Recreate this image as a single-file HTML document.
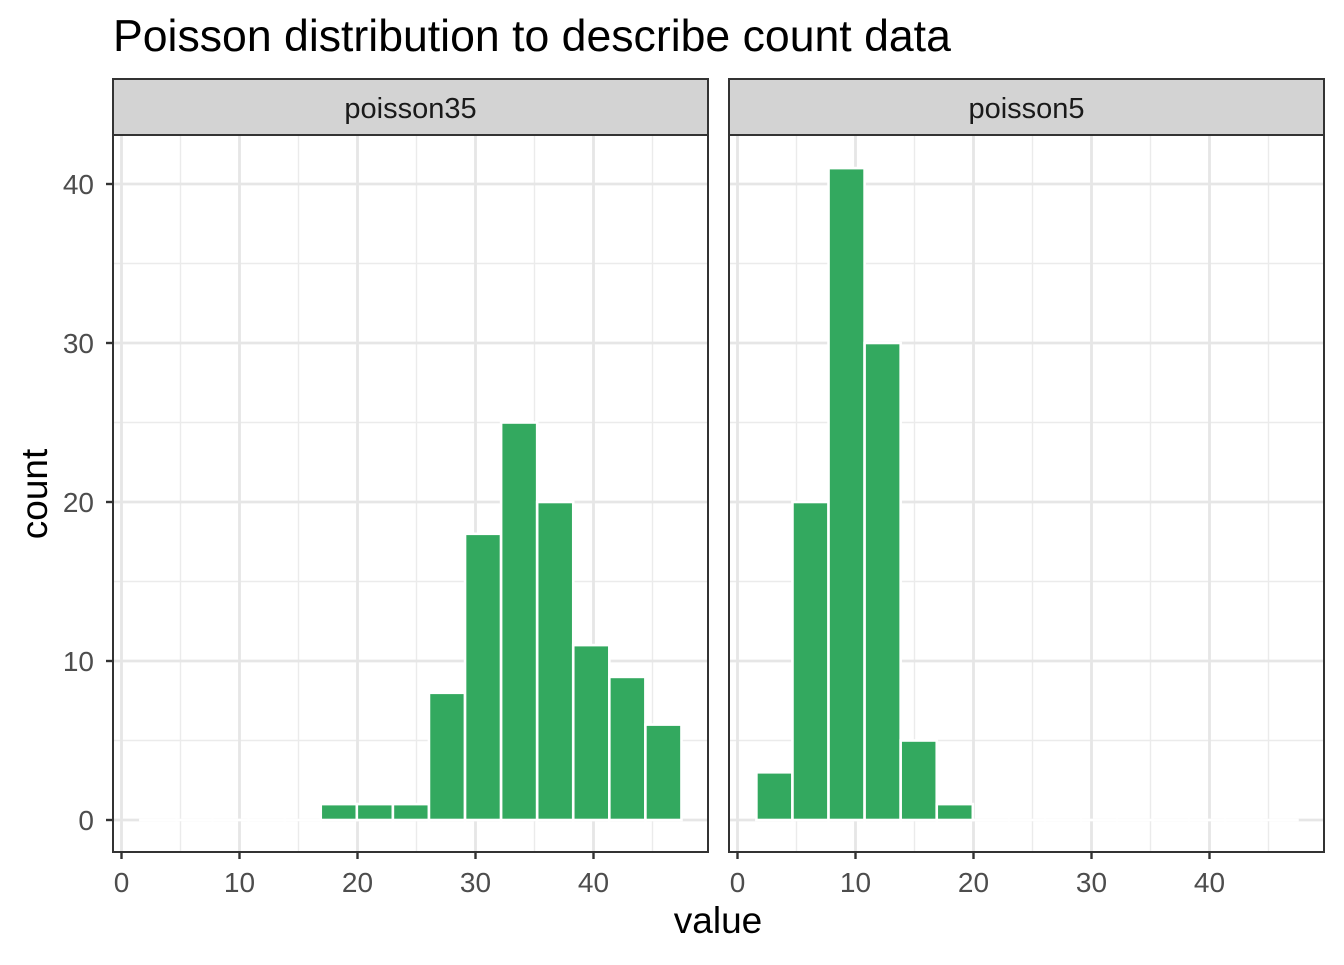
<!DOCTYPE html>
<html><head><meta charset="utf-8"><style>
body{margin:0;background:#fff;}
svg text{font-family:"Liberation Sans",Arial,sans-serif;}
</style></head><body>
<svg id="chart" width="1344" height="960" xmlns="http://www.w3.org/2000/svg">
<text x="113" y="51" font-size="44.6" fill="#000">Poisson distribution to describe count data</text>
<text transform="translate(47,494) rotate(-90)" text-anchor="middle" font-size="37" fill="#000">count</text>
<text x="718" y="933" text-anchor="middle" font-size="37" fill="#000">value</text>
<g id="panels"></g>
</svg>
<script>
const panelNames = ["poisson35", "poisson5"];
const countsPoisson35 = [0,0,0,0,0,1,1,1,8,18,25,20,11,9,6];
const countsPoisson5 = [3,20,41,30,5,1,0,0,0,0,0,0,0,0,0];
const binStart = 1.6;
const binWidth = 3.057;
const xTicks = [0,10,20,30,40];
const yTicks = [0,10,20,30,40];
const xMinor = [5,15,25,35,45];
const yMinor = [5,15,25,35];

const NS = "http://www.w3.org/2000/svg";
const panelsG = document.getElementById("panels");
const panelLefts = [113, 729], panelW = 595, panelTop = 135, panelBottom = 852;
function mk(tag, attrs, parent){const e=document.createElementNS(NS,tag);for(const k in attrs)e.setAttribute(k,attrs[k]);parent.appendChild(e);return e;}
const yS = v => 820 - v*15.9;
const allCounts = [countsPoisson35, countsPoisson5];

panelNames.forEach((name, p) => {
  const L = panelLefts[p];
  const xS = v => L + 8.5 + v*11.8;
  const g = mk("g", {}, panelsG);
  
  
  mk("rect", {x:L, y:panelTop, width:panelW, height:panelBottom-panelTop, fill:"#fff"}, g);
  xMinor.forEach(v => mk("line",{x1:xS(v),x2:xS(v),y1:panelTop,y2:panelBottom,stroke:"#ebebeb","stroke-width":1.4},g));
  yMinor.forEach(v => mk("line",{x1:L,x2:L+panelW,y1:yS(v),y2:yS(v),stroke:"#ebebeb","stroke-width":1.4},g));
  xTicks.forEach(v => mk("line",{x1:xS(v),x2:xS(v),y1:panelTop,y2:panelBottom,stroke:"#e6e6e6","stroke-width":2.8},g));
  yTicks.forEach(v => mk("line",{x1:L,x2:L+panelW,y1:yS(v),y2:yS(v),stroke:"#e6e6e6","stroke-width":2.8},g));
  allCounts[p].forEach((c, i) => {
    const x0 = xS(binStart + i*binWidth), x1 = xS(binStart + (i+1)*binWidth);
    const r = mk("rect",{x:x0,y:yS(c),width:x1-x0,height:Math.max(yS(0)-yS(c),0.01),fill:"#33a95f",stroke:"#fff","stroke-width":2.6},g);
    
    
  });
  mk("rect",{x:L,y:panelTop,width:panelW,height:panelBottom-panelTop,fill:"none",stroke:"#333","stroke-width":2},g);
  const strip = mk("rect",{x:L,y:79,width:panelW,height:56,fill:"#d3d3d3",stroke:"#333","stroke-width":2},g);
  
  
  const st = mk("text",{x:L+panelW/2,y:118,"text-anchor":"middle","font-size":29,fill:"#1a1a1a"},g);
  st.textContent = name;
  
  
  xTicks.forEach(v => {
    mk("line",{x1:xS(v),x2:xS(v),y1:panelBottom,y2:panelBottom+7,stroke:"#333","stroke-width":2.4},g);
    const t = mk("text",{x:xS(v),y:panelBottom+40,"text-anchor":"middle","font-size":28,fill:"#4d4d4d"},g);
    t.textContent = v;
    
    
  });
  if (p === 0) {
    yTicks.forEach(v => {
      mk("line",{x1:L-7,x2:L,y1:yS(v),y2:yS(v),stroke:"#333","stroke-width":2.4},g);
      const t = mk("text",{x:L-19,y:yS(v)+10,"text-anchor":"end","font-size":28,fill:"#4d4d4d"},g);
      t.textContent = v;
      
      
    });
  }
});
</script>
</body></html>
